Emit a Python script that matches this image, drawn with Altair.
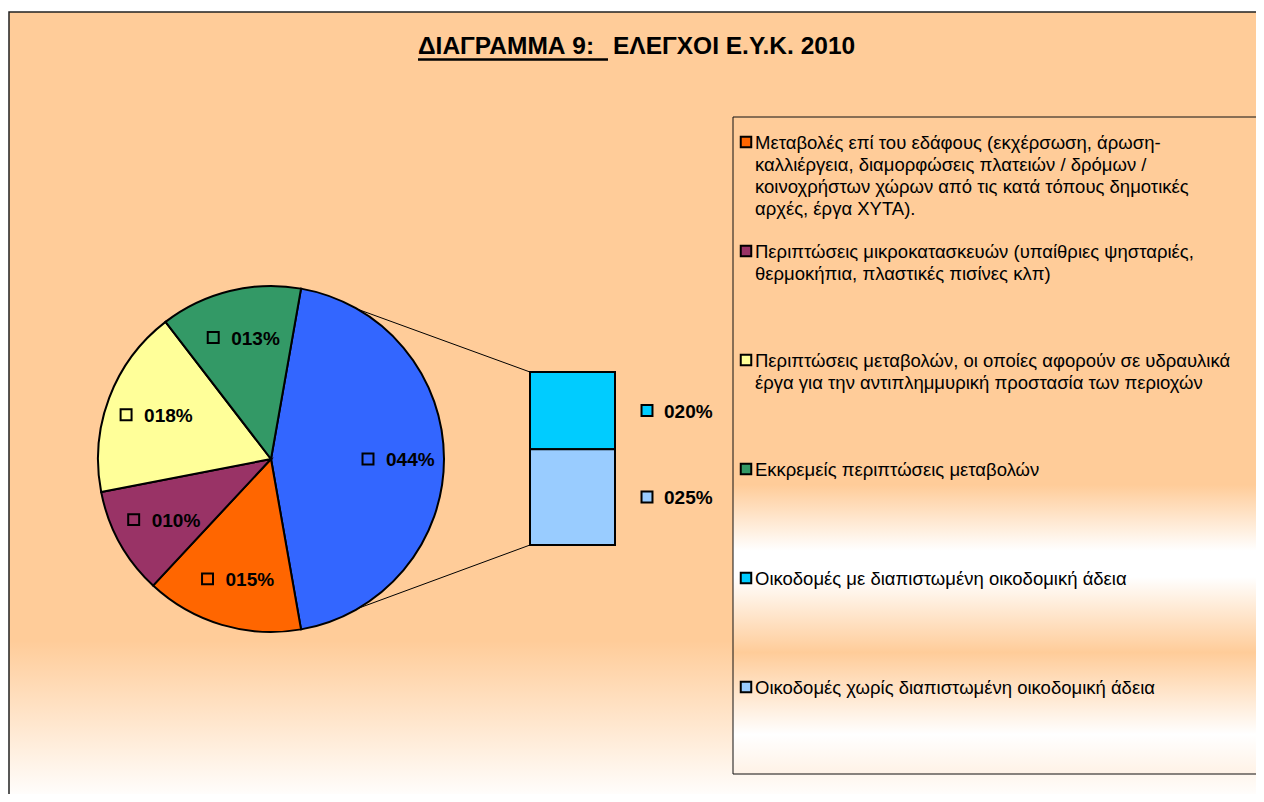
import math
import altair as alt
import pandas as pd

# ---------------- data ----------------
TITLE_LEFT = "ΔΙΑΓΡΑΜΜΑ\u00a09:"
TITLE_RIGHT = "ΕΛΕΓΧΟΙ Ε.Υ.Κ. 2010"

PIE_CATS = [
    "Μεταβολές επί του εδάφους (εκχέρσωση, άρωση-\nκαλλιέργεια, διαμορφώσεις πλατειών / δρόμων /\nκοινοχρήστων χώρων από τις κατά τόπους δημοτικές\nαρχές, έργα ΧΥΤΑ).",
    "Περιπτώσεις μικροκατασκευών (υπαίθριες ψησταριές,\nθερμοκήπια, πλαστικές πισίνες κλπ)",
    "Περιπτώσεις μεταβολών, οι οποίες αφορούν σε υδραυλικά\nέργα για την αντιπλημμυρική προστασία των περιοχών",
    "Εκκρεμείς περιπτώσεις μεταβολών",
]
PIE_VALUES = [14.7, 10.0, 17.6, 13.2]

BAR_CATS = [
    "Οικοδομές με διαπιστωμένη οικοδομική άδεια",
    "Οικοδομές χωρίς διαπιστωμένη οικοδομική άδεια",
]
BAR_VALUES = [19.8, 24.6]

OTHER_CAT = "Άλλο"

# ---------------- styles ----------------
COLORS = ["#FF6600", "#993366", "#FFFF99", "#339966", "#00CCFF", "#99CCFF"]
OTHER_COLOR = "#3366FF"
PEACH = "#FFCC99"
FONT = "Liberation Sans"
LABEL_FONT = "Liberation Sans"

# layout (chart pixels)
W, H = 1248, 786
CX, CY, R = 263, 451, 173
LR = 125
BAR_X0, BAR_X1 = 522, 607
BAR_TOP, BAR_BOTTOM = 364, 537

other_val = sum(BAR_VALUES)
total = other_val + sum(PIE_VALUES)
start = math.pi / 2 - math.pi * other_val / total
end_other = start + 2 * math.pi * other_val / total


def pct(v):
    return f"{round(v):03d}%"


all_cats = PIE_CATS + BAR_CATS + [OTHER_CAT]
color_scale = alt.Scale(domain=all_cats, range=COLORS + [OTHER_COLOR])
color_enc = alt.Color("cat:N", scale=color_scale, legend=None)

pie_df = pd.DataFrame({
    "cat": [OTHER_CAT] + PIE_CATS,
    "val": [other_val] + PIE_VALUES,
    "ord": list(range(len(PIE_CATS) + 1)),
})
pie_df["label"] = pie_df["val"].map(pct)

bar_df = pd.DataFrame({"cat": BAR_CATS, "val": BAR_VALUES, "ord": list(range(len(BAR_CATS)))})
bar_df["label"] = bar_df["val"].map(pct)

leg_df = pd.DataFrame({"cat": PIE_CATS + BAR_CATS, "idx": list(range(6))})

one = pd.DataFrame({"k": [0]})

# ---------------- background ----------------
bg = alt.Chart(one).mark_rect(
    fill=alt.Gradient(
        gradient="linear",
        stops=[
            alt.GradientStop(color=PEACH, offset=0),
            alt.GradientStop(color=PEACH, offset=0.79),
            alt.GradientStop(color="#FFFFFF", offset=0.99),
            alt.GradientStop(color="#FFFFFF", offset=1),
        ],
        x1=0, x2=0, y1=0, y2=1,
    ),
    stroke="#222222",
    strokeWidth=1.5,
).encode(x=alt.value(1), x2=alt.value(1300), y=alt.value(4), y2=alt.value(800))

legend_box = alt.Chart(one).mark_rect(
    fill=alt.Gradient(
        gradient="linear",
        stops=[
            alt.GradientStop(color=PEACH, offset=0),
            alt.GradientStop(color=PEACH, offset=0.56),
            alt.GradientStop(color="#FFFFFF", offset=0.66),
            alt.GradientStop(color="#FFFFFF", offset=0.70),
            alt.GradientStop(color=PEACH, offset=0.815),
            alt.GradientStop(color="#FFFFFF", offset=0.94),
            alt.GradientStop(color="#FFF2E6", offset=1),
        ],
        x1=0, x2=0, y1=0, y2=1,
    ),
    stroke="#111111",
    strokeWidth=1,
).encode(x=alt.value(725), x2=alt.value(1300), y=alt.value(109), y2=alt.value(766))

# ---------------- title ----------------
title_l = alt.Chart(one).mark_text(
    text=TITLE_LEFT, font=FONT, fontSize=24.5, fontWeight="bold", align="left", baseline="alphabetic", color="black"
).encode(x=alt.value(410), y=alt.value(46))
title_r = alt.Chart(one).mark_text(
    text=TITLE_RIGHT, font=FONT, fontSize=24.5, fontWeight="bold", align="left", baseline="alphabetic", color="black"
).encode(x=alt.value(605), y=alt.value(46))
underline = alt.Chart(one).mark_rule(color="black", strokeWidth=2.5).encode(
    x=alt.value(410), x2=alt.value(600), y=alt.value(51.5), y2=alt.value(51.5)
)

# ---------------- connectors ----------------
conn = alt.Chart(one).mark_rule(color="black", strokeWidth=1).encode(
    x=alt.value(CX + R * math.sin(start)), y=alt.value(CY - R * math.cos(start)),
    x2=alt.value(BAR_X0), y2=alt.value(BAR_TOP),
)
conn2 = alt.Chart(one).mark_rule(color="black", strokeWidth=1).encode(
    x=alt.value(CX + R * math.sin(end_other)), y=alt.value(CY - R * math.cos(end_other)),
    x2=alt.value(BAR_X0), y2=alt.value(BAR_BOTTOM),
)

# ---------------- pie ----------------
theta_scale = alt.Scale(domain=[0, total], range=[start, start + 2 * math.pi])
pie = alt.Chart(pie_df).mark_arc(outerRadius=R, stroke="black", strokeWidth=2).encode(
    theta=alt.Theta("val:Q", stack=True, scale=theta_scale),
    order=alt.Order("ord:Q"),
    color=color_enc,
    x=alt.value(CX), y=alt.value(CY),
)

pie_lab_base = alt.Chart(pie_df).transform_window(
    cum="sum(val)", sort=[alt.SortField("ord", order="ascending")], frame=[None, 0]
).transform_calculate(
    mid=f"{start} + 2*PI*(datum.cum - datum.val/2)/{total}",
).transform_calculate(
    ux=f"{CX} + {LR}*sin(datum.mid)",
    uy=f"{CY} - {LR}*cos(datum.mid)",
).transform_calculate(
    sx="datum.ux - 28",
    tx="datum.ux - 10",
)
pie_sq = pie_lab_base.mark_square(size=120, filled=True, stroke="black", strokeWidth=2, opacity=1).encode(
    x=alt.X("sx:Q", scale=None), y=alt.Y("uy:Q", scale=None), color=color_enc
)
pie_txt = pie_lab_base.mark_text(
    align="left", baseline="middle", font=LABEL_FONT, fontSize=19, fontWeight="bold", color="black", dy=1
).encode(x=alt.X("tx:Q", scale=None), y=alt.Y("uy:Q", scale=None), text="label:N")

# ---------------- bar of pie ----------------
bar_scale = alt.Scale(domain=[0, other_val], range=[BAR_BOTTOM, BAR_TOP])
bar_base = alt.Chart(bar_df).transform_stack(
    stack="val", groupby=[], as_=["y0", "y1"], sort=[alt.SortField("ord", order="descending")]
).transform_calculate(mid="(datum.y0 + datum.y1)/2")
bar = bar_base.mark_rect(stroke="black", strokeWidth=2).encode(
    x=alt.value(BAR_X0), x2=alt.value(BAR_X1),
    y=alt.Y("y0:Q", scale=bar_scale, axis=None), y2="y1:Q",
    color=color_enc,
)
bar_sq = bar_base.mark_square(size=120, filled=True, stroke="black", strokeWidth=2, opacity=1).encode(
    x=alt.value(639), y=alt.Y("mid:Q", scale=bar_scale, axis=None), color=color_enc
)
bar_txt = bar_base.mark_text(
    align="left", baseline="middle", font=LABEL_FONT, fontSize=19, fontWeight="bold", color="black", dy=1
).encode(x=alt.value(656), y=alt.Y("mid:Q", scale=bar_scale, axis=None), text="label:N")

# ---------------- legend ----------------
leg_scale = alt.Scale(domain=[0, 5], range=[134, 679])
leg_sq = alt.Chart(leg_df).mark_square(size=110, filled=True, stroke="black", strokeWidth=2, opacity=1).encode(
    x=alt.value(738), y=alt.Y("idx:Q", scale=leg_scale, axis=None), color=color_enc
)
leg_txt = alt.Chart(leg_df).mark_text(
    align="left", baseline="top", font=FONT, fontSize=18.5, lineHeight=22, lineBreak="\n", color="black", dy=-8.5
).encode(x=alt.value(747), y=alt.Y("idx:Q", scale=leg_scale, axis=None), text="cat:N")

chart = alt.layer(
    bg, legend_box, title_l, title_r, underline, conn, conn2, pie, pie_sq, pie_txt,
    bar, bar_sq, bar_txt, leg_sq, leg_txt,
).resolve_scale(
    x="independent", y="independent"
).properties(
    width=W, height=H, autosize=alt.AutoSizeParams(type="none"), padding=0, background="white"
).configure_view(stroke=None)

chart.save("out.html", embed_options={"renderer": "svg", "actions": False})
